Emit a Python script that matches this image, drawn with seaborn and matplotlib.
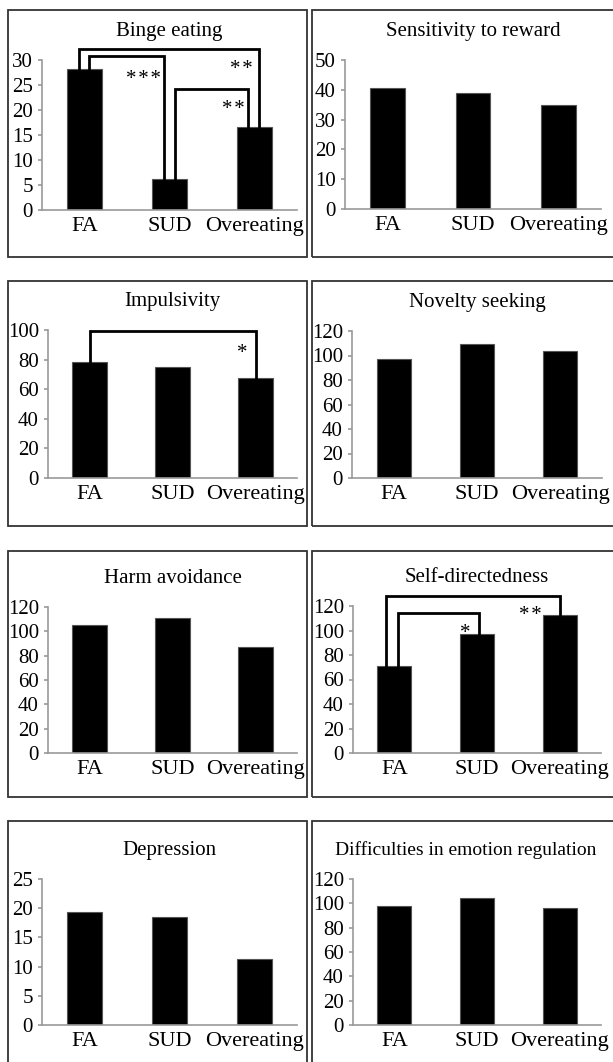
import matplotlib
matplotlib.use("Agg")
import matplotlib.pyplot as plt
import seaborn as sns
import pandas as pd
from matplotlib.patches import Rectangle

# ---------------- data ----------------
groups = ["FA", "SUD", "Overeating"]

titles = ["Binge eating", "Sensitivity to reward", "Impulsivity", "Novelty seeking",
          "Harm avoidance", "Self-directedness", "Depression",
          "Difficulties in emotion regulation"]

binge_eating = [28.3, 6.3, 16.7]
sensitivity_to_reward = [40.7, 38.8, 34.8]
impulsivity = [78.2, 75.2, 67.3]
novelty_seeking = [96.9, 109.4, 103.7]
harm_avoidance = [105.5, 111.0, 87.2]
self_directedness = [70.9, 97.0, 112.7]
depression = [19.3, 18.5, 11.3]
emotion_regulation = [98.0, 104.0, 96.1]

values = [binge_eating, sensitivity_to_reward, impulsivity, novelty_seeking,
          harm_avoidance, self_directedness, depression, emotion_regulation]

y_max = [30, 50, 100, 120, 120, 120, 25, 120]
y_step = [5, 10, 20, 20, 20, 20, 5, 20]

HS = "\u200a"
# significance brackets: (left leg x, right leg x, bracket top value)
brackets = {
    0: [(-0.06, 2.05, 32.2), (0.05, 0.93, 30.8), (1.06, 1.92, 24.3)],
    2: [(0.0, 2.0, 99.4)],
    5: [(-0.1, 2.0, 128.2), (0.05, 1.02, 114.3)],
}
# significance stars: (x, baseline value, label)
stars = {
    0: [(0.70, 25.2, HS.join("***")), (1.84, 27.2, HS.join("**")), (1.75, 19.2, HS.join("**"))],
    2: [(1.84, 81.0, "*")],
    5: [(0.855, 94.0, "*"), (1.64, 108.5, HS.join("**"))],
}

# ---------------- layout (pixels) ----------------
W, H = 613, 1062
axes_px = [
    (42, 60, 297, 210), (345, 60, 601, 209),
    (48, 330, 297, 478), (352, 331, 602, 478),
    (48, 607, 297, 753), (353, 606, 601, 753),
    (42, 879, 297, 1025), (353, 879, 601, 1025),
]
row_px = [(10, 257), (281, 526), (551, 797), (821, 1068)]
col_px = [(8, 307), (312, 616)]

sns.set_theme(style="white")
plt.rcParams["font.family"] = ["Liberation Serif", "DejaVu Serif"]

fig = plt.figure(figsize=(W / 100, H / 100), dpi=100)
fig.patch.set_facecolor("white")

# panel frames
for (ry0, ry1) in row_px:
    for (cx0, cx1) in col_px:
        fig.patches.append(Rectangle((cx0 / W, 1 - ry1 / H), (cx1 - cx0) / W, (ry1 - ry0) / H,
                                     transform=fig.transFigure, fill=False,
                                     edgecolor="#333333", linewidth=1.3))

spine_col = "#999999"
FS_TITLE = 15
FS_X = 16
FS_Y = 15
FS_STAR = 15

for i, (x0, yt, x1, yb) in enumerate(axes_px):
    ax = fig.add_axes([x0 / W, 1 - yb / H, (x1 - x0) / W, (yb - yt) / H])
    df = pd.DataFrame({"group": groups, "value": values[i]})
    sns.barplot(data=df, x="group", y="value", color="black", width=0.41,
                edgecolor="#555555", linewidth=0.8, saturation=1, ax=ax)
    ax.set_xlim(-0.5, 2.5)
    ax.set_ylim(0, y_max[i])
    ax.set_yticks(list(range(0, y_max[i] + 1, y_step[i])))
    ax.set_xlabel("")
    ax.set_ylabel("")
    ax.set_facecolor("none")
    for s in ["top", "right"]:
        ax.spines[s].set_visible(False)
    for s in ["left", "bottom"]:
        ax.spines[s].set_color(spine_col)
        ax.spines[s].set_linewidth(1.2)
    ax.set_xticks([0, 1, 2])
    ax.set_xticklabels(groups)
    ax.set_xticks([-0.5, 0.5, 1.5, 2.5], minor=True)
    ax.tick_params(axis="x", which="major", length=0, pad=5, labelsize=FS_X, labelcolor="black")
    ax.tick_params(axis="x", which="minor", length=3.6, width=1.2, color=spine_col, direction="out")
    ax.tick_params(axis="y", which="major", length=2.9, width=1.2, color=spine_col,
                   direction="out", pad=3.6, labelsize=FS_Y, labelcolor="black", left=True)
    if i == 7:
        ax.set_title(titles[i], fontsize=14, pad=17, color="black", x=0.455)
    else:
        ax.set_title(titles[i], fontsize=FS_TITLE, pad=17, color="black")

    for (xa, xb, ytop) in brackets.get(i, []):
        ha = values[i][int(round(xa))]
        hb = values[i][int(round(xb))]
        ax.plot([xa, xa, xb, xb], [ha, ytop, ytop, hb], color="black", lw=2,
                clip_on=False, solid_joinstyle="miter", zorder=5)
    for (xs, ys, lab) in stars.get(i, []):
        ax.text(xs, ys, lab, ha="center", va="baseline", fontsize=FS_STAR, color="black",
                clip_on=False, zorder=6)

fig.savefig("out.png", dpi=100, facecolor="white")
